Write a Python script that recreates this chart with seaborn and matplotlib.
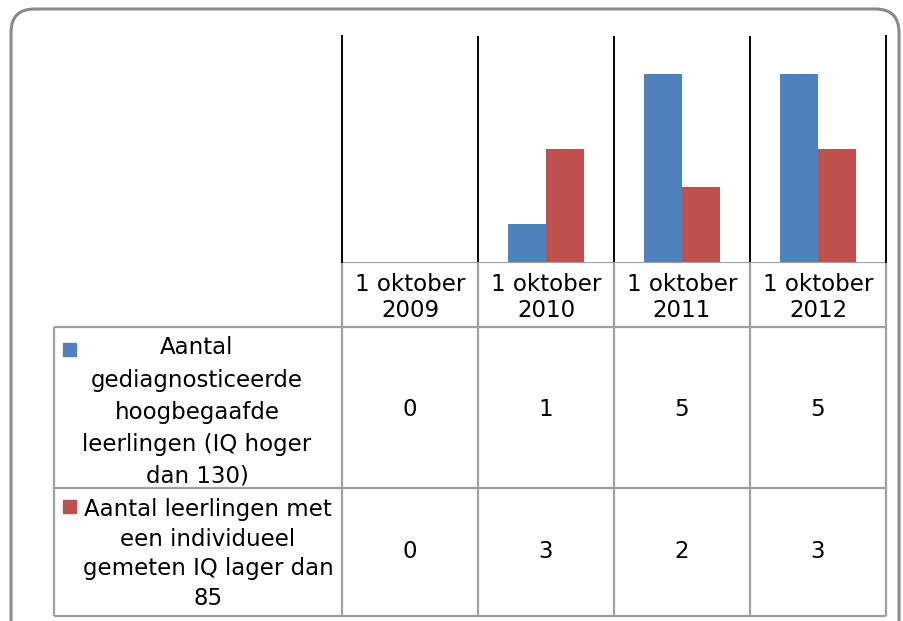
import pandas as pd
import matplotlib.pyplot as plt
import seaborn as sns
from matplotlib.patches import FancyBboxPatch, Rectangle

sns.set_style("white")
plt.rcParams['font.family'] = ['DejaVu Sans']
plt.rcParams['text.color'] = 'black'

# ---------------------
# Data
# ---------------------
periodes = ['1 oktober\n2009', '1 oktober\n2010', '1 oktober\n2011', '1 oktober\n2012']
reeksen = ['Aantal\ngediagnosticeerde\nhoogbegaafde\nleerlingen (IQ hoger\ndan 130)',
           'Aantal leerlingen met\neen individueel\ngemeten IQ lager dan\n85']
hoogbegaafd = [0, 1, 5, 5]
laag_iq = [0, 3, 2, 3]
kleuren = ['#4F81BD', '#C0504D']

df = pd.DataFrame({
    'periode': periodes * 2,
    'reeks': [reeksen[0]] * 4 + [reeksen[1]] * 4,
    'aantal': hoogbegaafd + laag_iq,
})

# ---------------------
# Layout (pixels)
# ---------------------
W, H = 904, 621
px_left, px_right, px_top, px_base = 342, 886, 36, 262
row_head_bot, row1_bot, row2_bot = 327, 488, 616
label_left = 54
fs = 16.5
grid_col = '#a0a0a0'

fig = plt.figure(figsize=(W / 100, H / 100), dpi=100)

# rounded chart border
frame = FancyBboxPatch((11 / W, -0.2), (899 - 11) / W, 1.2 - 9 / H,
                       boxstyle="round,pad=0,rounding_size=0.026",
                       transform=fig.transFigure, fill=False,
                       edgecolor='#8a8a8a', linewidth=2.2, mutation_aspect=W / H)
fig.patches.append(frame)

# ---------------------
# Bars
# ---------------------
ax = fig.add_axes([px_left / W, 1 - px_base / H, (px_right - px_left) / W, (px_base - px_top) / H])
sns.barplot(data=df, x='periode', y='aantal', hue='reeks', palette=kleuren,
            width=0.56, saturation=1, linewidth=0, legend=False, ax=ax)
ax.set_xlim(-0.5, len(periodes) - 0.5)
ax.set_ylim(0, 6)
ax.set_xticks([])
ax.set_yticks([])
ax.set_xlabel('')
ax.set_ylabel('')
for s in ['top', 'bottom']:
    ax.spines[s].set_visible(False)
for s in ['left', 'right']:
    ax.spines[s].set_color('black')
    ax.spines[s].set_linewidth(1.4)
for i in range(1, len(periodes)):
    ax.axvline(i - 0.5, color='black', lw=1.4)

# ---------------------
# Data table
# ---------------------
tab = fig.add_axes([0, 0, 1, 1], zorder=-1)
tab.set_xlim(0, W)
tab.set_ylim(H, 0)
tab.axis('off')

col_w = (px_right - px_left) / len(periodes)
col_edges = [px_left + i * col_w for i in range(len(periodes) + 1)]
col_mid = [px_left + (i + 0.5) * col_w for i in range(len(periodes))]

lw = 1.6
tab.hlines(px_base, px_left, px_right, color=grid_col, lw=lw)
for y in [row_head_bot, row1_bot, row2_bot]:
    tab.hlines(y, label_left, px_right, color=grid_col, lw=lw)
for x in col_edges:
    tab.vlines(x, px_base, row2_bot, color=grid_col, lw=lw)
tab.vlines(label_left, row_head_bot, row2_bot, color=grid_col, lw=lw)

head_mid = (px_base + row_head_bot) / 2 + 3
for x, p in zip(col_mid, periodes):
    tab.text(x, head_mid, p, ha='center', va='center', fontsize=fs, linespacing=1.12)

# (values, label, text centre y, label centre x, marker top y, line spacing)
rows = [(hoogbegaafd, reeksen[0], 412, 197, 343, 1.5),
        (laag_iq, reeksen[1], 554, 208, 500, 1.36)]
for (vals, naam, ymid, xlab, ymark, ls), kleur in zip(rows, kleuren):
    tab.add_patch(Rectangle((63, ymark), 13, 13, color=kleur))
    tab.text(xlab, ymid, naam, ha='center', va='center', fontsize=fs, linespacing=ls)
for (vals, naam, ymid, xlab, ymark, ls) in rows:
    for x, v in zip(col_mid, vals):
        tab.text(x, ymid - 2, str(v), ha='center', va='center', fontsize=fs)

fig.savefig('out.png', dpi=100)
